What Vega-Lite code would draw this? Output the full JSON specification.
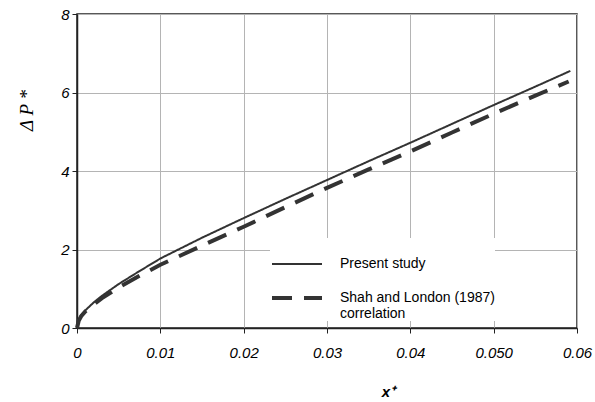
{
  "$schema": "https://vega.github.io/schema/vega-lite/v6.json",
  "width": 500,
  "height": 314,
  "autosize": "none",
  "padding": {"left": 77, "top": 14, "right": 18, "bottom": 74},
  "background": "white",
  "config": {
    "view": {"stroke": "#222", "strokeWidth": 1.5},
    "font": "Liberation Sans"
  },
  "data": {
    "values": [
      {"x": 0, "y": 0, "series": "Present study"},
      {"x": 0.0002, "y": 0.2, "series": "Present study"},
      {"x": 0.0005, "y": 0.33, "series": "Present study"},
      {"x": 0.001, "y": 0.45, "series": "Present study"},
      {"x": 0.002, "y": 0.65, "series": "Present study"},
      {"x": 0.003, "y": 0.82, "series": "Present study"},
      {"x": 0.005, "y": 1.12, "series": "Present study"},
      {"x": 0.0075, "y": 1.45, "series": "Present study"},
      {"x": 0.01, "y": 1.77, "series": "Present study"},
      {"x": 0.015, "y": 2.3, "series": "Present study"},
      {"x": 0.02, "y": 2.8, "series": "Present study"},
      {"x": 0.025, "y": 3.29, "series": "Present study"},
      {"x": 0.03, "y": 3.77, "series": "Present study"},
      {"x": 0.035, "y": 4.25, "series": "Present study"},
      {"x": 0.04, "y": 4.72, "series": "Present study"},
      {"x": 0.045, "y": 5.2, "series": "Present study"},
      {"x": 0.05, "y": 5.68, "series": "Present study"},
      {"x": 0.055, "y": 6.15, "series": "Present study"},
      {"x": 0.0592, "y": 6.55, "series": "Present study"},
      {"x": 0, "y": 0, "series": "Shah and London (1987) correlation"},
      {"x": 0.0002, "y": 0.18, "series": "Shah and London (1987) correlation"},
      {"x": 0.0005, "y": 0.3, "series": "Shah and London (1987) correlation"},
      {"x": 0.001, "y": 0.42, "series": "Shah and London (1987) correlation"},
      {"x": 0.002, "y": 0.6, "series": "Shah and London (1987) correlation"},
      {"x": 0.003, "y": 0.76, "series": "Shah and London (1987) correlation"},
      {"x": 0.005, "y": 1.03, "series": "Shah and London (1987) correlation"},
      {"x": 0.0075, "y": 1.33, "series": "Shah and London (1987) correlation"},
      {"x": 0.01, "y": 1.61, "series": "Shah and London (1987) correlation"},
      {"x": 0.015, "y": 2.1, "series": "Shah and London (1987) correlation"},
      {"x": 0.02, "y": 2.58, "series": "Shah and London (1987) correlation"},
      {"x": 0.025, "y": 3.08, "series": "Shah and London (1987) correlation"},
      {"x": 0.03, "y": 3.57, "series": "Shah and London (1987) correlation"},
      {"x": 0.035, "y": 4.04, "series": "Shah and London (1987) correlation"},
      {"x": 0.04, "y": 4.5, "series": "Shah and London (1987) correlation"},
      {"x": 0.045, "y": 4.98, "series": "Shah and London (1987) correlation"},
      {"x": 0.05, "y": 5.46, "series": "Shah and London (1987) correlation"},
      {"x": 0.055, "y": 5.92, "series": "Shah and London (1987) correlation"},
      {"x": 0.059, "y": 6.28, "series": "Shah and London (1987) correlation"}
    ]
  },
  "mark": {"type": "line", "color": "#333", "strokeCap": "butt"},
  "encoding": {
    "x": {
      "field": "x", "type": "quantitative",
      "scale": {"domain": [0, 0.06], "nice": false},
      "axis": {
        "values": [0, 0.01, 0.02, 0.03, 0.04, 0.05, 0.06],
        "labelExpr": "datum.value == 0 ? '0' : datum.value == 0.05 ? '0.050' : format(datum.value, '.2f')",
        "title": "x⁺",
        "titleFont": "Liberation Sans", "titleFontSize": 15, "titleFontStyle": "italic", "titleFontWeight": "bold",
        "titleX": 311, "titleY": 56, "titleBaseline": "top", "titleAlign": "center",
        "labelFont": "Liberation Sans", "labelFontSize": 15, "labelFontStyle": "italic", "labelColor": "#000",
        "labelPadding": 12,
        "labelFlush": false,
        "domainColor": "#222", "domainWidth": 1.5,
        "tickColor": "#222", "tickSize": 5, "tickWidth": 1,
        "gridColor": "#b4b4b4", "gridWidth": 1,
        "encode": {"labels": {"update": {"dx": {"signal": "datum.value == 0 ? 2 : datum.value == 0.01 ? 5 : datum.value == 0.02 ? 8 : datum.value == 0.05 ? 12 : datum.value == 0.06 ? -11 : 9"}}}}
      }
    },
    "y": {
      "field": "y", "type": "quantitative",
      "scale": {"domain": [0, 8], "nice": false},
      "axis": {
        "values": [0, 2, 4, 6, 8],
        "title": "Δ P *",
        "titleFont": "Liberation Serif", "titleFontSize": 19, "titleFontStyle": "italic", "titleFontWeight": "normal",
        "titleX": -51, "titleY": 96, "titleAlign": "center", "titleBaseline": "middle",
        "labelFont": "Liberation Sans", "labelFontSize": 15, "labelFontStyle": "italic", "labelColor": "#000",
        "labelPadding": 3,
        "domainColor": "#222", "domainWidth": 1.5,
        "tickColor": "#222", "tickSize": 5, "tickWidth": 1,
        "gridColor": "#b4b4b4", "gridWidth": 1
      }
    },
    "strokeDash": {
      "field": "series", "type": "nominal",
      "scale": {"domain": ["Present study", "Shah and London (1987) correlation"], "range": [[1, 0], [20, 12]]},
      "legend": {
        "title": null,
        "orient": "none", "legendX": 193, "legendY": 224,
        "fillColor": "white", "padding": 0,
        "symbolType": "stroke", "symbolSize": 2500, "symbolStrokeColor": "#333",
        "labelFont": "Liberation Sans", "labelFontSize": 14, "labelColor": "#000",
        "labelOffset": 16, "labelLimit": 300, "rowPadding": -13,
        "labelExpr": "datum.value == 'Shah and London (1987) correlation' ? ['Shah and London (1987)', 'correlation'] : datum.label"
      }
    },
    "strokeWidth": {
      "field": "series", "type": "nominal",
      "scale": {"domain": ["Present study", "Shah and London (1987) correlation"], "range": [2, 4]},
      "legend": null
    }
  }
}
